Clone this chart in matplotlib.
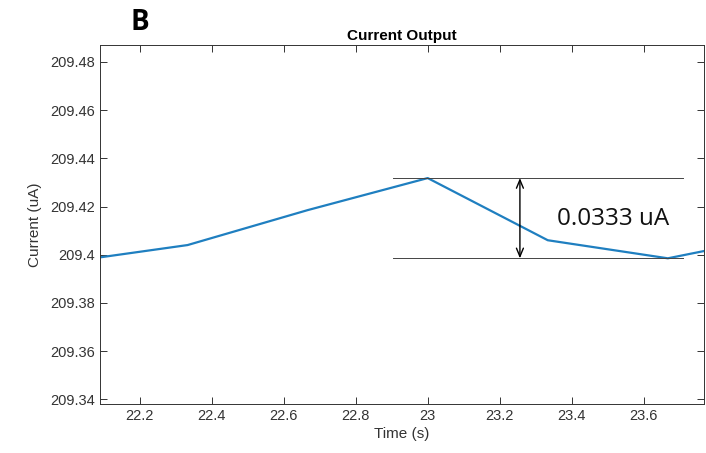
import numpy as np
import matplotlib.pyplot as plt

plt.rcParams['font.family'] = ['Liberation Sans', 'DejaVu Sans']

time_s = [22.0, 22.3333, 22.6667, 23.0, 23.3333, 23.6667, 24.0]
current_ua = [209.397, 209.404, 209.4185, 209.4318, 209.406, 209.3985, 209.4085]

peak_val = 209.4318
low_val = 209.3985
span_x = [22.903, 23.708]
arrow_x = 23.256
delta_label = '0.0333 uA'

fig = plt.figure(figsize=(7.06, 4.53), dpi=100)
ax = fig.add_axes([0.1416, 0.108, 0.8555, 0.7925])

ax.plot(time_s, current_ua, color='#1f7fc0', lw=1.6)

# annotation for peak-to-peak
ax.plot(span_x, [peak_val, peak_val], color='#444444', lw=0.7)
ax.plot(span_x, [low_val, low_val], color='#444444', lw=0.7)
ax.annotate('', xy=(arrow_x, peak_val), xytext=(arrow_x, low_val),
            arrowprops=dict(arrowstyle='<->,head_length=0.6,head_width=0.25',
                            color='black', lw=1.0, shrinkA=0, shrinkB=0))
ax.text(23.36, (peak_val + low_val) / 2 - 0.0004, delta_label, fontsize=17.5,
        family=['Open Sans', 'DejaVu Sans'], va='center', ha='left', color='#111111')

ax.set_xlim(22.09, 23.767)
ax.set_ylim(209.338, 209.487)
ax.set_xticks([22.2, 22.4, 22.6, 22.8, 23.0, 23.2, 23.4, 23.6])
ax.set_xticklabels(['22.2', '22.4', '22.6', '22.8', '23', '23.2', '23.4', '23.6'])
ax.set_yticks([209.34, 209.36, 209.38, 209.4, 209.42, 209.44, 209.46, 209.48])
ax.set_yticklabels(['209.34', '209.36', '209.38', '209.4', '209.42', '209.44', '209.46', '209.48'])
ax.tick_params(direction='in', top=True, right=True, labelsize=10.5,
               colors='#333333', length=5, width=0.7)
for s in ax.spines.values():
    s.set_color('#333333')
    s.set_linewidth(0.7)

ax.set_xlabel('Time (s)', fontsize=11, color='#333333', labelpad=3)
ax.set_ylabel('Current (uA)', fontsize=11, color='#333333', labelpad=6)
ax.set_title('Current Output', fontsize=11, fontweight='bold', pad=4)

fig.text(0.185, 0.95, 'B', fontsize=20, fontweight='bold',
         family=['Open Sans', 'DejaVu Sans'], ha='left', va='center')

fig.savefig('out.png', dpi=100)
